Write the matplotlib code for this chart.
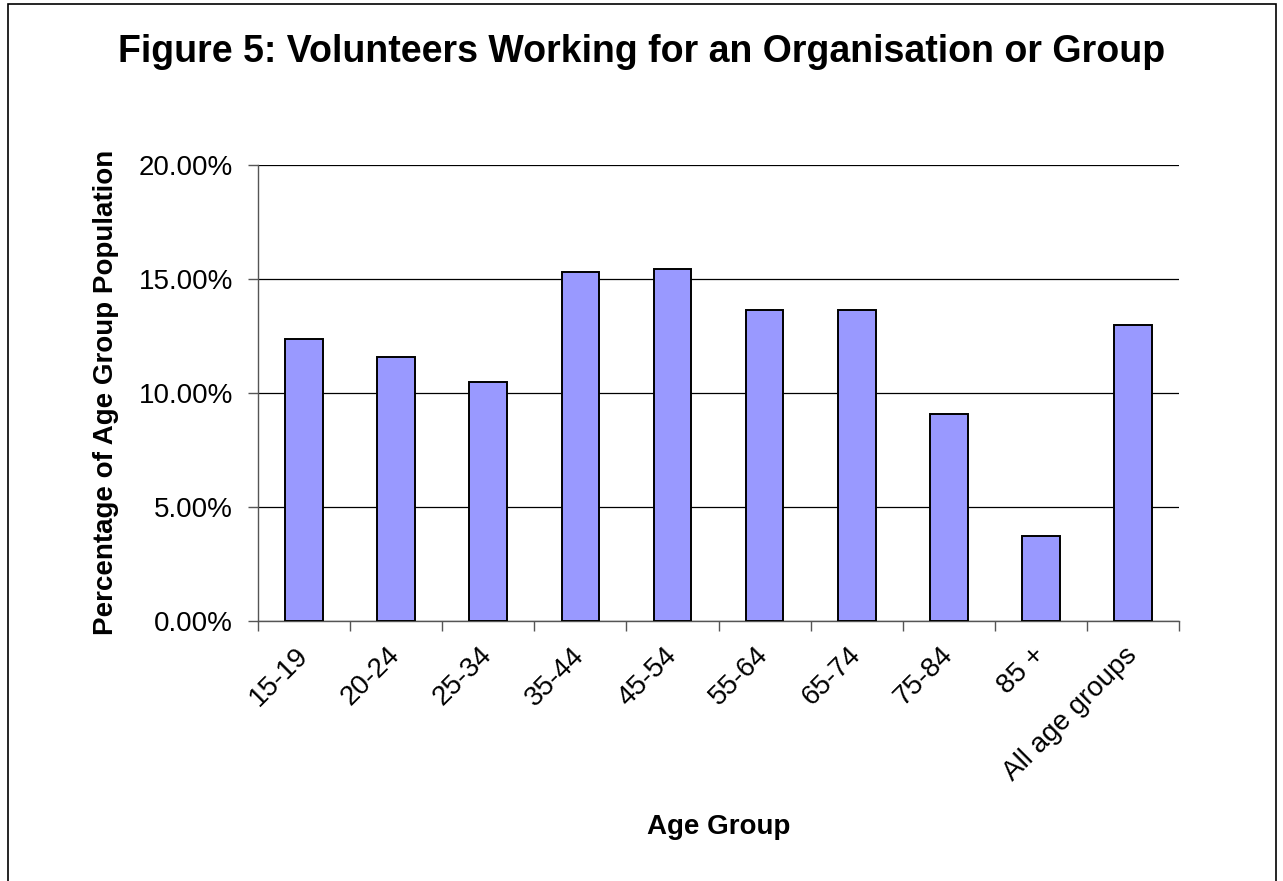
import matplotlib.pyplot as plt
from matplotlib.patches import Rectangle
from matplotlib.ticker import FuncFormatter

plt.rcParams['font.family'] = ['Liberation Sans', 'DejaVu Sans']

# values (percent of age group population)
age_groups = ['15-19', '20-24', '25-34', '35-44', '45-54', '55-64',
              '65-74', '75-84', '85 +', 'All age groups']
volunteers = [12.35, 11.57, 10.49, 15.29, 15.45, 13.65, 13.65, 9.09, 3.72, 12.97]
y_ticks = [0, 5, 10, 15, 20]

fig = plt.figure(figsize=(12.83, 8.81), dpi=100)
ax = fig.add_axes([0.2011, 0.2955, 0.7179, 0.5172])

# outer frame of the chart object
fig.patches.append(Rectangle((8 / 1283, -0.1), 1268 / 1283, 1.1 - 4 / 881,
                             transform=fig.transFigure, fill=False,
                             edgecolor='black', linewidth=1.2))

x = range(len(age_groups))
ax.bar(x, volunteers, width=0.41, color='#9999FF', edgecolor='black',
       linewidth=1.4, zorder=3)

ax.set_xlim(-0.5, len(age_groups) - 0.5)
ax.set_ylim(0, 20)
ax.set_yticks(y_ticks)
ax.yaxis.set_major_formatter(FuncFormatter(lambda v, p: f'{v:.2f}%'))
ax.yaxis.grid(True, color='black', linewidth=0.9, zorder=0)

# ticks sit between categories, labels at centres
ax.set_xticks([i - 0.5 for i in range(len(age_groups) + 1)])
ax.set_xticklabels([])
ax.set_xticks(list(x), minor=True)
ax.set_xticklabels(age_groups, minor=True, rotation=45, ha='right', va='center',
                   rotation_mode='anchor', fontsize=20)
ax.tick_params(axis='x', which='minor', length=0, pad=22)
ax.tick_params(axis='x', which='major', length=7, width=1, color='#555555')
ax.tick_params(axis='y', length=7, width=1, color='#555555', labelsize=20, pad=11)

for side in ['top', 'right']:
    ax.spines[side].set_visible(False)
for side in ['left', 'bottom']:
    ax.spines[side].set_color('#555555')
    ax.spines[side].set_linewidth(1)

ax.set_xlabel('Age Group', fontsize=20, fontweight='bold', va='center')
ax.xaxis.set_label_coords(0.5, -0.4527)
ax.set_ylabel('Percentage of Age Group Population', fontsize=20,
              fontweight='bold', va='center')
ax.yaxis.set_label_coords(-0.165, 0.5)
fig.text(0.5, 1 - 52 / 881, 'Figure 5: Volunteers Working for an Organisation or Group',
         ha='center', va='center', fontsize=27, fontweight='bold')

fig.savefig('out.png', dpi=100)
